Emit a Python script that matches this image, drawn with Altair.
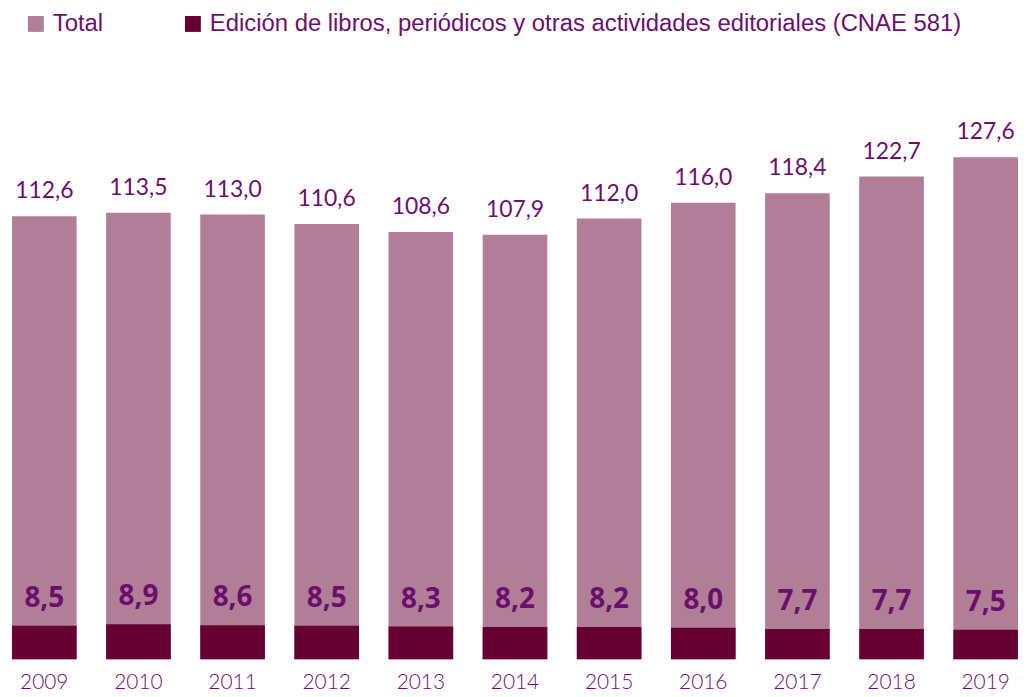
import altair as alt
import pandas as pd

years = ["2009", "2010", "2011", "2012", "2013", "2014", "2015", "2016", "2017", "2018", "2019"]
total = [112.6, 113.5, 113.0, 110.6, 108.6, 107.9, 112.0, 116.0, 118.4, 122.7, 127.6]
edicion = [8.5, 8.9, 8.6, 8.5, 8.3, 8.2, 8.2, 8.0, 7.7, 7.7, 7.5]
series = ["Total", "Edición de libros, periódicos y otras actividades editoriales (CNAE 581)"]
colors = ["#B07F96", "#660033"]
text_color = "#6B0F6E"

def fmt(v):
    return f"{v:.1f}".replace(".", ",")

df = pd.DataFrame(
    [{"year": y, "serie": series[0], "value": v, "label": fmt(v), "ord": 0} for y, v in zip(years, total)]
    + [{"year": y, "serie": series[1], "value": v, "label": fmt(v), "ord": 1} for y, v in zip(years, edicion)]
)

x = alt.X("year:N", title=None, sort=years,
          scale=alt.Scale(paddingInner=0.3136, paddingOuter=0.0211, align=1),
          axis=alt.Axis(labelAngle=0, domain=False, ticks=False, labelPadding=12,
                        labelFontSize=21, labelFont="Lato", labelColor=text_color, labelFontWeight=300))
y = alt.Y("value:Q", title=None, stack=None,
          scale=alt.Scale(domain=[0, 165], nice=False, zero=True), axis=None)

base = alt.Chart(df)

bars = base.mark_bar().encode(
    x=x, y=y,
    color=alt.Color("serie:N", scale=alt.Scale(domain=series, range=colors),
                    legend=alt.Legend(title=None, orient="none", legendX=16, legendY=2,
                                      direction="horizontal", symbolType="square", symbolSize=256,
                                      symbolStrokeWidth=0, labelFontSize=24, labelFont="Liberation Sans",
                                      labelColor=text_color, columnPadding=78, labelOffset=5,
                                      padding=0, labelLimit=900)),
    order=alt.Order("ord:Q"),
)

top_labels = base.transform_filter(alt.datum.ord == 0).mark_text(
    baseline="alphabetic", dy=-18, fontSize=23, font="Lato", color=text_color
).encode(x=x, y=y, text="label:N")

low_labels = base.transform_filter(alt.datum.ord == 1).mark_text(
    baseline="alphabetic", dy=-19, fontSize=28, font="Open Sans", fontWeight="bold", color=text_color
).encode(x=x, y=y, text="label:N")

chart = alt.layer(bars, top_labels, low_labels).properties(
    width=1016, height=653, padding={"left": 0, "top": 0, "right": 0, "bottom": 36},
    autosize=alt.AutoSizeParams(type="none"),
).configure_view(stroke=None)

chart.save("out.html", embed_options={"renderer": "svg", "actions": False})
